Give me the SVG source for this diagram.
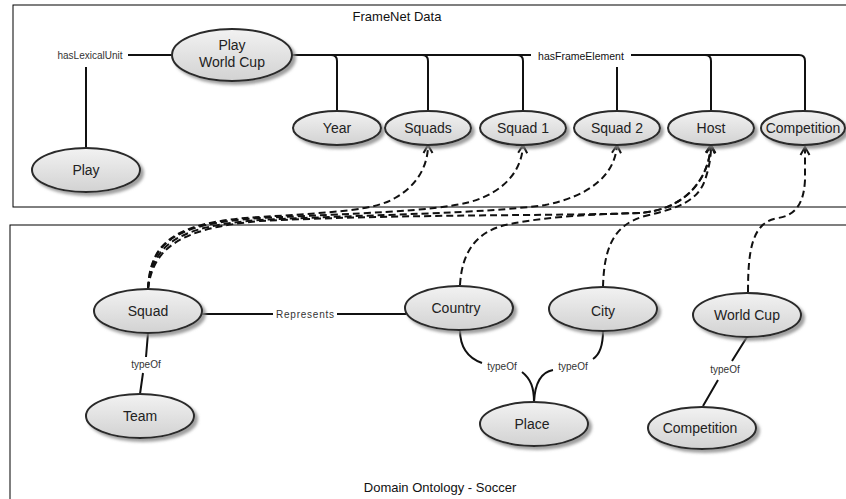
<svg xmlns="http://www.w3.org/2000/svg" width="846" height="499" viewBox="0 0 846 499">
<style>
.frame{fill:none;stroke:#000;stroke-width:1}
.title{font-family:"Liberation Sans",Arial,sans-serif;font-size:13px;fill:#111}
.node ellipse{fill:url(#g);stroke:#2a2a2a;stroke-width:2;filter:url(#sh)}
.node text{font-family:"Liberation Sans",Arial,sans-serif;font-size:14px;fill:#222;text-anchor:middle}
.edge{fill:none;stroke:#111;stroke-width:2}
.dash{fill:none;stroke:#111;stroke-width:2;stroke-dasharray:7 4;marker-end:url(#arr)}
.lbl{font-family:"Liberation Sans",Arial,sans-serif;font-size:10px;fill:#333;text-anchor:middle}
</style>
<defs>
<linearGradient id="g" x1="0" y1="0" x2="0" y2="1">
<stop offset="0" stop-color="#f2f2f2"/>
<stop offset="1" stop-color="#d2d2d2"/>
</linearGradient>
<filter id="sh" x="-20%" y="-20%" width="150%" height="160%">
<feDropShadow dx="3" dy="3" stdDeviation="1.5" flood-color="#888" flood-opacity="0.8"/>
</filter>
<marker id="arr" markerUnits="userSpaceOnUse" markerWidth="14" markerHeight="14" refX="9" refY="5" orient="auto" viewBox="0 0 14 10">
<path d="M1,0.5 L9,5 L1,9.5" fill="none" stroke="#111" stroke-width="2" stroke-dasharray="none"/>
</marker>
</defs>
<rect width="846" height="499" fill="#fff"/>
<g id="frames">
<rect class="frame" x="13" y="5" width="840" height="202"/>
<rect class="frame" x="10" y="225" width="845" height="290"/>
<text class="title" x="397" y="21" text-anchor="middle">FrameNet Data</text>
<text class="title" x="440" y="492" text-anchor="middle">Domain Ontology - Soccer</text>
</g>
<g id="connectors">
<path class="edge" d="M172,55 H128"/>
<path class="edge" d="M86,67 V148"/>
<text class="lbl" x="90" y="59">hasLexicalUnit</text>
<path class="edge" d="M293,55 H799 Q805,55 805,61 V111"/>
<path class="edge" d="M331,55 Q337,55 337,61 V111"/>
<path class="edge" d="M422,55 Q428,55 428,61 V111"/>
<path class="edge" d="M517,55 Q523,55 523,61 V111"/>
<path class="edge" d="M705,55 Q711,55 711,61 V111"/>
<rect x="531" y="45" width="100" height="21" fill="#fff"/>
<path class="edge" d="M617,67 V111"/>
<text class="lbl" x="581" y="60" style="font-size:10.5px;fill:#111">hasFrameElement</text>
<path class="edge" d="M202,314 H273 M337,314 H406"/>
<text class="lbl" x="305" y="318" textLength="58">Represents</text>
<path class="edge" d="M148,333 L146,357 M143,373 L140,394"/>
<text class="lbl" x="146" y="368">typeOf</text>
<path class="edge" d="M460,330 C460,348 468,358 482,363"/>
<path class="edge" d="M522,372 C531,379 534,388 534,402"/>
<path class="edge" d="M603,331 C603,346 599,355 593,359"/>
<path class="edge" d="M553,370 C542,372 535,381 534,402"/>
<text class="lbl" x="502" y="370">typeOf</text>
<text class="lbl" x="573" y="370">typeOf</text>
<path class="edge" d="M747,337 L732,361 M718,380 L703,406"/>
<text class="lbl" x="725" y="373">typeOf</text>
<path class="dash" d="M148,289 C150,245 170,222 260,217 C340,212 375,210 395,198 C418,185 428,165 428,145"/>
<path class="dash" d="M148,289 C151,243 172,224 260,218 C360,213 430,212 470,202 C505,192 522,170 523,145"/>
<path class="dash" d="M148,289 C152,246 175,226 260,220 C380,214 480,214 545,205 C590,196 615,175 617,145"/>
<path class="dash" d="M148,289 C153,248 180,228 260,221 C400,214 560,216 640,213 C680,210 708,185 711,145"/>
<path class="dash" d="M460,285 C462,250 478,230 510,224 C550,216 600,214 640,213 C680,210 708,185 711,145"/>
<path class="dash" d="M603,287 C604,250 612,225 645,216 C680,208 698,200 705,180 C710,165 711,155 711,145"/>
<path class="dash" d="M748,292 C748,250 752,222 778,218 C798,215 804,200 805,180 L805,147"/>
</g>
<g id="n-playwc" class="node"><ellipse cx="232" cy="55" rx="60" ry="26"/><text x="232" y="50">Play</text><text x="232" y="67">World Cup</text></g>
<g id="n-play" class="node"><ellipse cx="86" cy="170" rx="54" ry="22"/><text x="86" y="175">Play</text></g>
<g id="n-year" class="node"><ellipse cx="337" cy="128" rx="44" ry="17"/><text x="337" y="133">Year</text></g>
<g id="n-squads" class="node"><ellipse cx="428" cy="128" rx="43" ry="17"/><text x="428" y="133">Squads</text></g>
<g id="n-squad1" class="node"><ellipse cx="523" cy="128" rx="43" ry="17"/><text x="523" y="133">Squad 1</text></g>
<g id="n-squad2" class="node"><ellipse cx="617" cy="128" rx="43" ry="17"/><text x="617" y="133">Squad 2</text></g>
<g id="n-host" class="node"><ellipse cx="711" cy="128" rx="43" ry="17"/><text x="711" y="133">Host</text></g>
<g id="n-comp1" class="node"><ellipse cx="803" cy="128" rx="42" ry="17"/><text x="803" y="133">Competition</text></g>
<g id="n-squad" class="node"><ellipse cx="148" cy="311" rx="54" ry="22"/><text x="148" y="316">Squad</text></g>
<g id="n-team" class="node"><ellipse cx="140" cy="416" rx="54" ry="22"/><text x="140" y="421">Team</text></g>
<g id="n-country" class="node"><ellipse cx="459" cy="308" rx="54" ry="22"/><text x="456" y="313">Country</text></g>
<g id="n-city" class="node"><ellipse cx="603" cy="309" rx="54" ry="22"/><text x="603" y="316">City</text></g>
<g id="n-worldcup" class="node"><ellipse cx="747" cy="315" rx="54" ry="22"/><text x="747" y="320">World Cup</text></g>
<g id="n-place" class="node"><ellipse cx="534" cy="424" rx="54" ry="22"/><text x="532" y="429">Place</text></g>
<g id="n-comp2" class="node"><ellipse cx="702" cy="428" rx="54" ry="21"/><text x="700" y="433">Competition</text></g>
</svg>
